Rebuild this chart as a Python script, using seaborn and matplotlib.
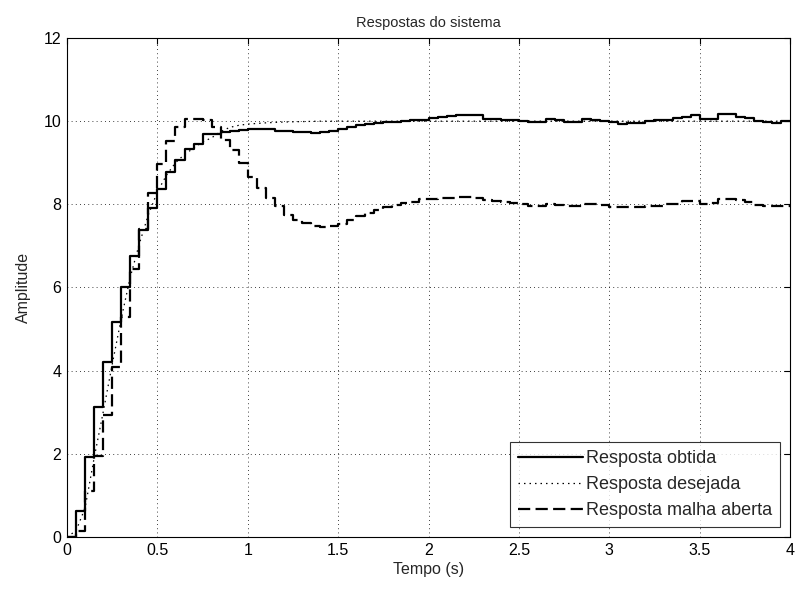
import numpy as np
import pandas as pd
import matplotlib
matplotlib.use("Agg")
import matplotlib.pyplot as plt
import seaborn as sns

# Sample period of the discrete responses (s)
Ts = 0.05

# Closed-loop response obtained (held between samples)
obtida = [0.0, 0.63, 1.93, 3.13, 4.21, 5.18, 6.02, 6.75, 7.38, 7.90,
          8.38, 8.78, 9.06, 9.32, 9.46, 9.68, 9.70, 9.74, 9.76, 9.78,
          9.80, 9.82, 9.82, 9.77, 9.76, 9.74, 9.74, 9.72, 9.73, 9.76,
          9.80, 9.85, 9.90, 9.93, 9.95, 9.97, 9.98, 10.00, 10.02, 10.04,
          10.08, 10.09, 10.13, 10.14, 10.14, 10.16, 10.05, 10.05, 10.04, 10.03,
          10.00, 9.97, 9.98, 10.05, 10.02, 9.98, 9.98, 10.05, 10.02, 10.00,
          9.98, 9.94, 9.96, 9.96, 10.00, 10.02, 10.02, 10.08, 10.10, 10.14,
          10.06, 10.06, 10.17, 10.17, 10.10, 10.08, 10.00, 9.97, 9.95, 10.00,
          10.00]

# Open-loop response (held between samples)
malha_aberta = [0.0, 0.15, 1.10, 1.95, 2.93, 4.09, 5.29, 6.45, 7.40, 8.27,
                8.98, 9.53, 9.86, 10.06, 10.06, 10.02, 9.85, 9.55, 9.30, 9.00,
                8.65, 8.40, 8.15, 7.95, 7.75, 7.62, 7.55, 7.48, 7.46, 7.48,
                7.52, 7.62, 7.72, 7.80, 7.86, 7.93, 7.98, 8.04, 8.06, 8.12,
                8.13, 8.15, 8.15, 8.18, 8.18, 8.15, 8.10, 8.08, 8.05, 8.04,
                8.00, 7.97, 7.96, 8.02, 7.98, 7.95, 7.95, 8.00, 8.00, 7.98,
                7.94, 7.94, 7.94, 7.94, 7.95, 7.96, 8.00, 8.02, 8.08, 8.08,
                8.02, 8.03, 8.14, 8.12, 8.10, 8.06, 7.98, 7.96, 7.95, 7.96,
                7.96]

# Desired (reference model) response, continuous
t_desejada = [0.0, 0.05, 0.10, 0.15, 0.20, 0.25, 0.30, 0.35, 0.40, 0.45,
              0.50, 0.55, 0.60, 0.65, 0.70, 0.75, 0.80, 0.85, 0.90, 0.95,
              1.00, 1.10, 1.20, 1.40, 4.00]
desejada = [0.0, 0.15, 0.70, 1.90, 3.00, 4.15, 5.25, 6.25, 7.05, 7.75,
            8.30, 8.70, 9.00, 9.20, 9.35, 9.50, 9.60, 9.75, 9.85, 9.90,
            9.93, 9.96, 9.98, 10.00, 10.00]

labels = ["Resposta obtida", "Resposta desejada", "Resposta malha aberta"]
x_ticks = [0, 0.5, 1, 1.5, 2, 2.5, 3, 3.5, 4]
x_ticklabels = ["0", "0.5", "1", "1.5", "2", "2.5", "3", "3.5", "4"]
y_ticks = [0, 2, 4, 6, 8, 10, 12]

t_disc = np.arange(len(obtida)) * Ts
df = pd.concat([
    pd.DataFrame({"t": t_disc, "y": obtida, "serie": labels[0]}),
    pd.DataFrame({"t": t_desejada, "y": desejada, "serie": labels[1]}),
    pd.DataFrame({"t": t_disc, "y": malha_aberta, "serie": labels[2]}),
], ignore_index=True)

sns.set_style("white")
plt.rcParams["font.family"] = ["Liberation Sans", "DejaVu Sans"]
plt.rcParams["font.size"] = 10.5

fig = plt.figure(figsize=(7.95, 5.94), dpi=100)
ax = fig.add_axes([0.0843, 0.0960, 0.9094, 0.8400])

sns.lineplot(data=df[df.serie == labels[0]], x="t", y="y", ax=ax,
             color="black", lw=1.6, drawstyle="steps-post",
             estimator=None, label=labels[0])
sns.lineplot(data=df[df.serie == labels[1]], x="t", y="y", ax=ax,
             color="black", lw=0.9, linestyle=(0, (1.2, 3.2)),
             estimator=None, label=labels[1])
sns.lineplot(data=df[df.serie == labels[2]], x="t", y="y", ax=ax,
             color="black", lw=1.6, drawstyle="steps-post",
             linestyle=(0, (5.5, 2.4)), estimator=None, label=labels[2])

ax.set_xlim(0, 4)
ax.set_ylim(0, 12)
ax.set_xticks(x_ticks)
ax.set_xticklabels(x_ticklabels)
ax.set_yticks(y_ticks)
ax.grid(True, color="black", linestyle=(0, (1, 4)), linewidth=0.6)
ax.tick_params(direction="in", length=4, width=0.8, colors="black",
               top=True, right=True, labelsize=11.5, pad=4)
for s in ax.spines.values():
    s.set_visible(True)
    s.set_color("black")
    s.set_linewidth(0.8)

ax.set_title("Respostas do sistema", fontsize=10.5, pad=8)
ax.set_xlabel("Tempo (s)", fontsize=11.5, labelpad=3)
ax.set_ylabel("Amplitude", fontsize=11.5, labelpad=9)

leg = ax.legend(loc="lower right", fontsize=13, frameon=True,
                fancybox=False, borderaxespad=0.55, handlelength=3.6,
                handletextpad=0.15, labelspacing=0.5, borderpad=0.45)
leg.get_frame().set_edgecolor("black")
leg.get_frame().set_linewidth(0.8)

fig.savefig("out.png", dpi=100)
